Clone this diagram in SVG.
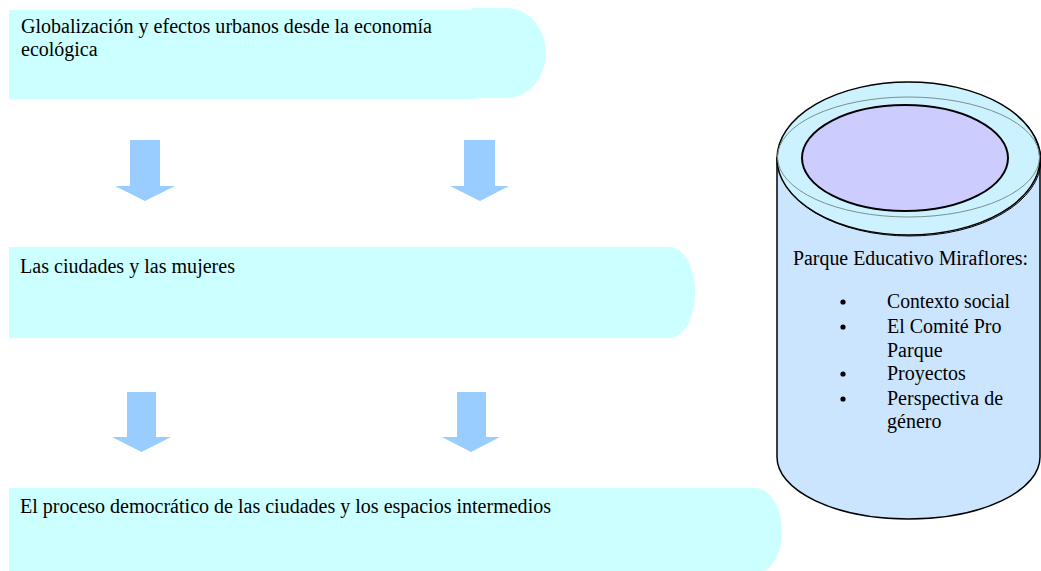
<svg xmlns="http://www.w3.org/2000/svg" width="1041" height="571" viewBox="0 0 1041 571">
<style>
.box{fill:#CCFFFF;stroke:none}
.arr{fill:#99CCFF;stroke:none}
.t{font-family:'Liberation Serif','DejaVu Serif',serif;font-size:20px;fill:#000}
</style>
<rect width="1041" height="571" fill="#FFFFFF"/>
<g id="connectors">
<path class="arr" d="M130,140 H160 V186 H175 L145,201 L115,186 H130 Z"/>
<path class="arr" d="M464,140 H495 V186 H509 L480,201 L450,186 H464 Z"/>
<path class="arr" d="M127,392 H156 V437 H171 L141.5,452 L112,437 H127 Z"/>
<path class="arr" d="M457,392 H486 V437 H500 L471,452 L442,437 H457 Z"/>
</g>
<g id="node1">
<path class="box" d="M9,10 H472 V8 H507 A39,45 0 0 1 507,98 H478 V99 H9 Z"/>
<text class="t" x="21" y="33" textLength="411" lengthAdjust="spacingAndGlyphs">Globalización y efectos urbanos desde la economía</text>
<text class="t" x="21" y="56">ecológica</text>
</g>
<g id="node2">
<path class="box" d="M9,247 H670 A25,45.5 0 0 1 670,338 H9 Z"/>
<text class="t" x="20" y="273" textLength="215" lengthAdjust="spacingAndGlyphs">Las ciudades y las mujeres</text>
</g>
<g id="node3">
<path class="box" d="M9,488 H755 A27,43 0 0 1 755,574 H9 Z"/>
<text class="t" x="20" y="513" textLength="531" lengthAdjust="spacingAndGlyphs">El proceso democrático de las ciudades y los espacios intermedios</text>
</g>
<g id="node4">
<path d="M777,158 V457 A131.5,62 0 0 0 1040,457 V158 Z" fill="#CCE5FF" stroke="#000" stroke-width="1.5"/>
<ellipse cx="909.5" cy="159.5" rx="131.5" ry="76.5" fill="none" stroke="#000" stroke-width="1"/>
<ellipse cx="908.5" cy="158.5" rx="131.5" ry="76.5" fill="#CCF2FF" stroke="#000" stroke-width="1.5"/>
<ellipse cx="908.5" cy="157" rx="131" ry="60" fill="none" stroke="#7A8F8F" stroke-width="1"/>
<ellipse cx="905" cy="158" rx="103" ry="53" fill="#CCCCFF" stroke="#000" stroke-width="2"/>
<text class="t" x="793" y="265" textLength="235" lengthAdjust="spacingAndGlyphs">Parque Educativo Miraflores:</text>
<circle cx="843" cy="302" r="2.6" fill="#000"/>
<circle cx="843" cy="327" r="2.6" fill="#000"/>
<circle cx="843" cy="374" r="2.6" fill="#000"/>
<circle cx="843" cy="399" r="2.6" fill="#000"/>
<text class="t" x="887" y="308" textLength="123" lengthAdjust="spacingAndGlyphs">Contexto social</text>
<text class="t" x="887" y="333">El Comité Pro</text>
<text class="t" x="887" y="357">Parque</text>
<text class="t" x="887" y="380">Proyectos</text>
<text class="t" x="887" y="405">Perspectiva de</text>
<text class="t" x="887" y="428">género</text>
</g>
</svg>
